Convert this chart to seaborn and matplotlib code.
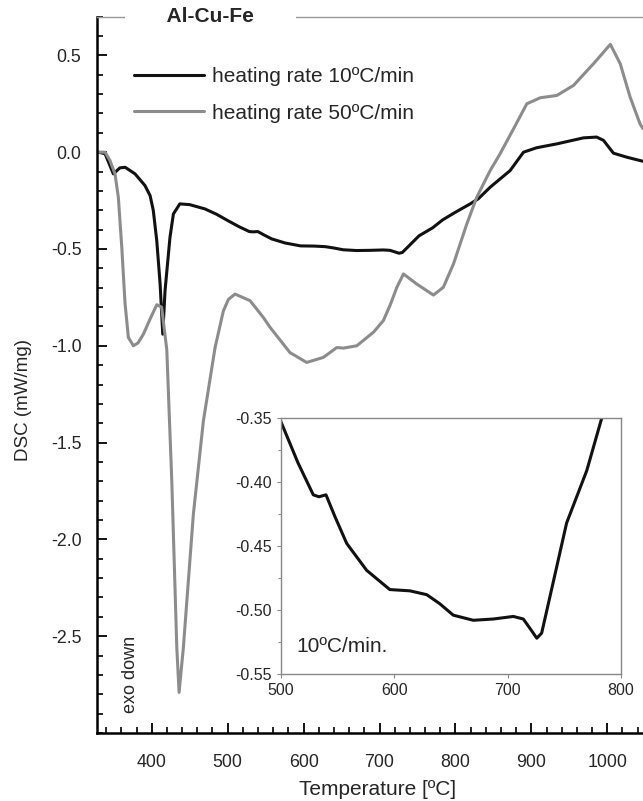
import numpy as np
import pandas as pd
import matplotlib
matplotlib.use("Agg")
import matplotlib.pyplot as plt
from matplotlib.ticker import MultipleLocator, FixedLocator, FormatStrFormatter
from matplotlib.lines import Line2D
import seaborn as sns

# heating rate 10 C/min (black curve, also shown in the inset)
temp_10 = [329.6, 338.5, 349.4, 358, 365, 378, 391, 397.8, 402, 406.6, 411, 414.5,
           417.5, 424, 428.5, 437, 450, 470, 485, 500, 515, 528.5, 533.5, 539.7,
           547.6, 558, 575.6, 596, 613.8, 628.6, 640, 652, 669.7, 687.4, 705, 713.8,
           721, 725.7, 730, 740, 752, 769.8, 783, 800, 819, 830, 845.7, 872, 889.6,
           907, 933.6, 968.6, 986, 995, 1008, 1025.8, 1047]
dsc_10 = [0.0, -0.008, -0.112, -0.081, -0.078, -0.112, -0.172, -0.224, -0.30, -0.457,
          -0.68, -0.94, -0.715, -0.44, -0.319, -0.267, -0.271, -0.293, -0.32, -0.353,
          -0.385, -0.410, -0.4115, -0.410, -0.427, -0.448, -0.469, -0.484, -0.485,
          -0.488, -0.495, -0.504, -0.508, -0.507, -0.505, -0.507, -0.516, -0.522,
          -0.518, -0.479, -0.432, -0.391, -0.35, -0.31, -0.268, -0.241, -0.181,
          -0.095, 0.0, 0.023, 0.043, 0.074, 0.078, 0.061, -0.005, -0.026, -0.047]

# heating rate 50 C/min (grey curve)
temp_50 = [329.6, 338.5, 345, 351.6, 356, 360.5, 364.8, 369.2, 375.8, 382, 389, 398,
           406.6, 413, 419.8, 426.4, 433, 436, 441.6, 454.8, 468, 483.4, 494.3, 501,
           509.7, 529.5, 547, 555.9, 582, 604, 626, 643.7, 652.4, 670, 692, 705, 714,
           722.8, 731.5, 749, 771, 784, 797.4, 815, 828, 845.7, 858.8, 876.4, 894,
           911.6, 933.6, 955.5, 981.8, 1004, 1017, 1030, 1043, 1047]
dsc_50 = [0.0, 0.0, -0.043, -0.112, -0.233, -0.49, -0.78, -0.957, -1.0, -0.985, -0.94,
          -0.86, -0.788, -0.80, -1.02, -1.70, -2.56, -2.79, -2.56, -1.87, -1.388,
          -1.009, -0.82, -0.76, -0.733, -0.767, -0.854, -0.905, -1.035, -1.086, -1.06,
          -1.009, -1.012, -1.0, -0.93, -0.87, -0.79, -0.698, -0.629, -0.681, -0.738,
          -0.698, -0.577, -0.370, -0.233, -0.095, -0.008, 0.12, 0.25, 0.281, 0.293,
          0.345, 0.457, 0.557, 0.457, 0.285, 0.147, 0.121]

series_names = ["heating rate 10ºC/min", "heating rate 50ºC/min"]
y_major = [0.5, 0.0, -0.5, -1.0, -1.5, -2.0, -2.5]
x_major = [400, 500, 600, 700, 800, 900, 1000]
inset_x_ticks = [500, 600, 700, 800]
inset_y_ticks = [-0.55, -0.50, -0.45, -0.40, -0.35]

df = pd.concat([
    pd.DataFrame({"T": temp_10, "DSC": dsc_10, "rate": series_names[0]}),
    pd.DataFrame({"T": temp_50, "DSC": dsc_50, "rate": series_names[1]}),
])
df_inset = df[df["rate"] == series_names[0]]

sns.set_style("ticks")
plt.rcParams["font.family"] = ["Liberation Sans", "DejaVu Sans"]
plt.rcParams["axes.unicode_minus"] = False

colors = {series_names[0]: "#111111", series_names[1]: "#8c8c8c"}

fig = plt.figure(figsize=(6.43, 8.01), dpi=100)
ax = fig.add_axes([0.1504, 0.0849, 0.8496, 0.8943])

sns.lineplot(data=df, x="T", y="DSC", hue="rate", palette=colors,
             estimator=None, linewidth=2.2, legend=False, ax=ax)

ax.set_xlim(327.5, 1047)
ax.set_ylim(-3.0, 0.7)
ax.xaxis.set_major_locator(FixedLocator(x_major))
ax.xaxis.set_minor_locator(MultipleLocator(20))
ax.yaxis.set_major_locator(FixedLocator(y_major))
ax.yaxis.set_minor_locator(MultipleLocator(0.1))
ax.yaxis.set_major_formatter(FormatStrFormatter("%.1f"))
ax.tick_params(which="major", direction="in", length=7, width=1.3,
               labelsize=12.8, pad=11, color="black")
ax.tick_params(axis="x", which="major", pad=15)
ax.tick_params(which="minor", direction="in", length=4, width=1.2, color="black")
for s in ["left", "bottom"]:
    ax.spines[s].set_linewidth(1.8)
    ax.spines[s].set_color("black")
ax.spines["right"].set_visible(False)
ax.spines["top"].set_color("#999999")
ax.spines["top"].set_linewidth(1.0)

ax.set_xlabel("Temperature [ºC]", fontsize=15)
ax.set_ylabel("DSC (mW/mg)", fontsize=13.5)
ax.xaxis.set_label_coords(0.515, -0.066)
ax.yaxis.set_label_coords(-0.118, 0.465)

# title sitting on the top frame line
ax.text(0.208, 1.0, "       Al-Cu-Fe       ", transform=ax.transAxes, ha="center",
        va="center", fontsize=15, fontweight="bold",
        bbox=dict(facecolor="white", edgecolor="none", boxstyle="square,pad=0.1"))

ax.text(0.062, 0.028, "exo down", transform=ax.transAxes, rotation=90,
        ha="center", va="bottom", fontsize=13)

handles = [Line2D([], [], color=colors[n], lw=2.2) for n in series_names]
fig.legend(handles, series_names, loc="center left", bbox_to_anchor=(0.2084, 0.8817),
           frameon=False, fontsize=15, handlelength=3.34, handletextpad=0.41,
           labelspacing=0.85, borderpad=0, borderaxespad=0)

# inset: 10 C/min between 500 and 800 C
axin = fig.add_axes([0.437, 0.1585, 0.5288, 0.3196])
sns.lineplot(data=df_inset, x="T", y="DSC", color="#111111", estimator=None,
             linewidth=2.2, legend=False, ax=axin)
axin.set_xlim(500, 800)
axin.set_ylim(-0.55, -0.35)
axin.xaxis.set_major_locator(FixedLocator(inset_x_ticks))
axin.yaxis.set_major_locator(FixedLocator(inset_y_ticks))
axin.yaxis.set_minor_locator(MultipleLocator(0.025))
axin.yaxis.set_major_formatter(FormatStrFormatter("%.2f"))
axin.tick_params(which="both", direction="out", length=3, width=0.8,
                 color="#888888", labelsize=11.5, pad=3.5)
axin.tick_params(which="minor", length=2)
for s in axin.spines.values():
    s.set_color("#888888")
    s.set_linewidth(1.0)
axin.set_xlabel("")
axin.set_ylabel("")
axin.text(0.045, 0.107, "10ºC/min.", transform=axin.transAxes, ha="left",
          va="center", fontsize=15)

fig.savefig("out.png", dpi=100)
